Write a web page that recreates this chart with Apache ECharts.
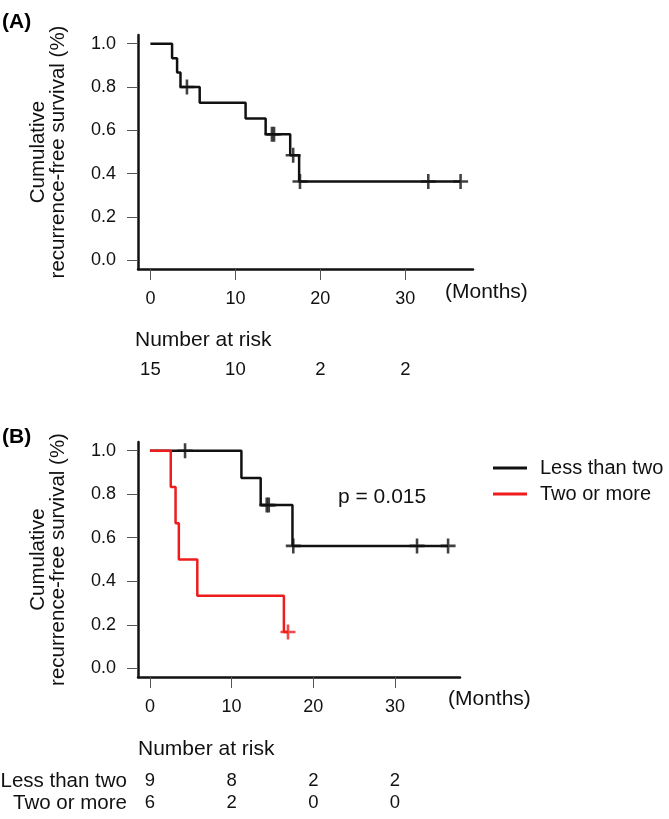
<!DOCTYPE html>
<html><head><meta charset="utf-8">
<script src="https://cdn.jsdelivr.net/npm/echarts@6/dist/echarts.min.js"></script>
<style>html,body{margin:0;padding:0;background:#fff}#c{width:669px;height:819px}</style>
</head><body><div id="c"></div>
<script>
// ---- shared axis ticks ----
const xTicks = [0, 10, 20, 30];
const yTicks = [0, 0.2, 0.4, 0.6, 0.8, 1.0];

// ---- Panel A: all patients ----
const kmTimesA = [0, 2.55, 3.14, 3.54, 5.8, 11.2, 13.56, 16.45, 17.5, 36.5];
const kmSurvA  = [1.0, 0.933, 0.867, 0.8, 0.727, 0.655, 0.582, 0.485, 0.364, 0.364];
const censorTimesA = [4.3, 14.3, 14.55, 16.8, 17.6, 32.7, 36.5];
const censorSurvA  = [0.8, 0.582, 0.582, 0.485, 0.364, 0.364, 0.364];
const riskA = [15, 10, 2, 2];

// ---- Panel B: by group ----
const groupNames = ['Less than two', 'Two or more'];
const kmTimesB1 = [0, 11.2, 13.56, 17.45, 36.5];
const kmSurvB1  = [1.0, 0.875, 0.75, 0.5625, 0.5625];
const censorTimesB1 = [4.3, 14.3, 14.55, 17.55, 32.7, 36.5];
const censorSurvB1  = [1.0, 0.75, 0.75, 0.5625, 0.5625, 0.5625];
const kmTimesB2 = [0, 2.55, 3.14, 3.54, 5.8, 16.4, 16.9];
const kmSurvB2  = [1.0, 0.833, 0.667, 0.5, 0.333, 0.167, 0.167];
const censorTimesB2 = [16.9];
const censorSurvB2  = [0.167];
const riskB1 = [9, 8, 2, 2];
const riskB2 = [6, 2, 0, 0];
const pText = 'p = 0.015';

const FONT = "'Liberation Sans', Arial, Helvetica, sans-serif";
const BLACK = '#111111';
const RED = '#ee1c1c';
const XMIN = -1.46, XMAX = 37.96, YMIN = -0.04, YMAX = 1.04;
const PLUS = 'path://M-1.2,-7L1.2,-7L1.2,-1.2L7,-1.2L7,1.2L1.2,1.2L1.2,7L-1.2,7L-1.2,1.2L-7,1.2L-7,-1.2L-1.2,-1.2Z';

function zip(a, b) { return a.map((v, i) => [v, b[i]]); }

function mainX(grid) {
  return {
    type: 'value', gridIndex: grid, min: XMIN, max: XMAX, position: 'bottom',
    axisLine: { show: true, onZero: false, lineStyle: { color: BLACK, width: 2.5 } },
    axisTick: { show: true, customValues: xTicks, length: 11, lineStyle: { color: '#555', width: 1 } },
    axisLabel: { show: true, customValues: xTicks, margin: 21, fontSize: 18, color: BLACK, fontFamily: FONT },
    splitLine: { show: false }
  };
}
function riskX(grid, offset, values, name) {
  return {
    type: 'value', gridIndex: grid, min: XMIN, max: XMAX, position: 'bottom', offset: offset,
    name: name || '', nameLocation: 'start', nameGap: 11,
    nameTextStyle: { fontSize: 20.5, color: BLACK, fontFamily: FONT, align: 'right', verticalAlign: 'middle' },
    axisLine: { show: false, onZero: false },
    axisTick: { show: false },
    axisLabel: { show: true, customValues: xTicks, margin: 0, verticalAlign: 'middle', fontSize: 18.5, color: BLACK, fontFamily: FONT,
      formatter: v => String(values[xTicks.indexOf(Math.round(v))]) },
    splitLine: { show: false }
  };
}
function mainY(grid) {
  return {
    type: 'value', gridIndex: grid, min: YMIN, max: YMAX,
    name: 'Cumulative\nrecurrence-free survival (%)', nameLocation: 'middle', nameRotate: 90, nameGap: 70,
    nameTextStyle: { fontSize: 20.5, lineHeight: 20, color: BLACK, fontFamily: FONT },
    axisLine: { show: true, onZero: false, lineStyle: { color: BLACK, width: 2.5 } },
    axisTick: { show: true, customValues: yTicks, length: 11, lineStyle: { color: '#555', width: 1 } },
    axisLabel: { show: true, customValues: yTicks, margin: 22, fontSize: 18, color: BLACK, fontFamily: FONT,
      formatter: v => v.toFixed(1) },
    splitLine: { show: false }
  };
}
function km(name, grid, times, surv, color) {
  return { type: 'line', name: name, xAxisIndex: grid === 0 ? 0 : 2, yAxisIndex: grid,
    data: zip(times, surv), step: 'end', showSymbol: false, symbol: 'none',
    lineStyle: { color: color, width: 2.5 }, itemStyle: { color: color }, z: 3, animation: false };
}
function censor(name, grid, times, surv, color) {
  return { type: 'scatter', name: name, xAxisIndex: grid === 0 ? 0 : 2, yAxisIndex: grid,
    data: zip(times, surv), symbol: PLUS, symbolSize: 15,
    itemStyle: { color: color }, z: 4, animation: false, silent: true };
}

const chart = echarts.init(document.getElementById('c'));
chart.setOption({
  backgroundColor: '#ffffff',
  animation: false,
  textStyle: { fontFamily: FONT },
  grid: [
    { left: 138, top: 35, width: 335, height: 234, containLabel: false, outerBoundsMode: 'none' },
    { left: 138, top: 442, width: 322, height: 235, containLabel: false, outerBoundsMode: 'none' }
  ],
  xAxis: [
    mainX(0),
    riskX(0, 101, riskA),
    mainX(1),
    riskX(1, 104, riskB1, groupNames[0]),
    riskX(1, 126, riskB2, groupNames[1])
  ],
  yAxis: [mainY(0), mainY(1)],
  legend: {
    show: true, orient: 'vertical', left: 493, top: 458, padding: 0,
    itemWidth: 34, itemHeight: 3, itemGap: 6, icon: 'rect',
    data: groupNames,
    textStyle: { fontSize: 20, color: BLACK, fontFamily: FONT, padding: [0, 0, 0, 8] }
  },
  series: [
    km('All', 0, kmTimesA, kmSurvA, BLACK),
    censor('All censored', 0, censorTimesA, censorSurvA, BLACK),
    km(groupNames[0], 1, kmTimesB1, kmSurvB1, BLACK),
    censor('c1', 1, censorTimesB1, censorSurvB1, BLACK),
    km(groupNames[1], 1, kmTimesB2, kmSurvB2, RED),
    censor('c2', 1, censorTimesB2, censorSurvB2, RED)
  ],
  graphic: [
    { type: 'text', left: 2, top: 12, style: { text: '(A)', font: 'bold 21px ' + FONT, fill: '#000' } },
    { type: 'text', left: 445, top: 282, style: { text: '(Months)', font: '21px ' + FONT, fill: BLACK } },
    { type: 'text', left: 135, top: 330, style: { text: 'Number at risk', font: '21px ' + FONT, fill: BLACK } },
    { type: 'text', left: 2, top: 427, style: { text: '(B)', font: 'bold 21px ' + FONT, fill: '#000' } },
    { type: 'text', left: 338, top: 487, style: { text: pText, font: '21px ' + FONT, fill: BLACK } },
    { type: 'text', left: 448, top: 689, style: { text: '(Months)', font: '21px ' + FONT, fill: BLACK } },
    { type: 'text', left: 138, top: 739, style: { text: 'Number at risk', font: '21px ' + FONT, fill: BLACK } }
  ]
});
</script></body></html>
